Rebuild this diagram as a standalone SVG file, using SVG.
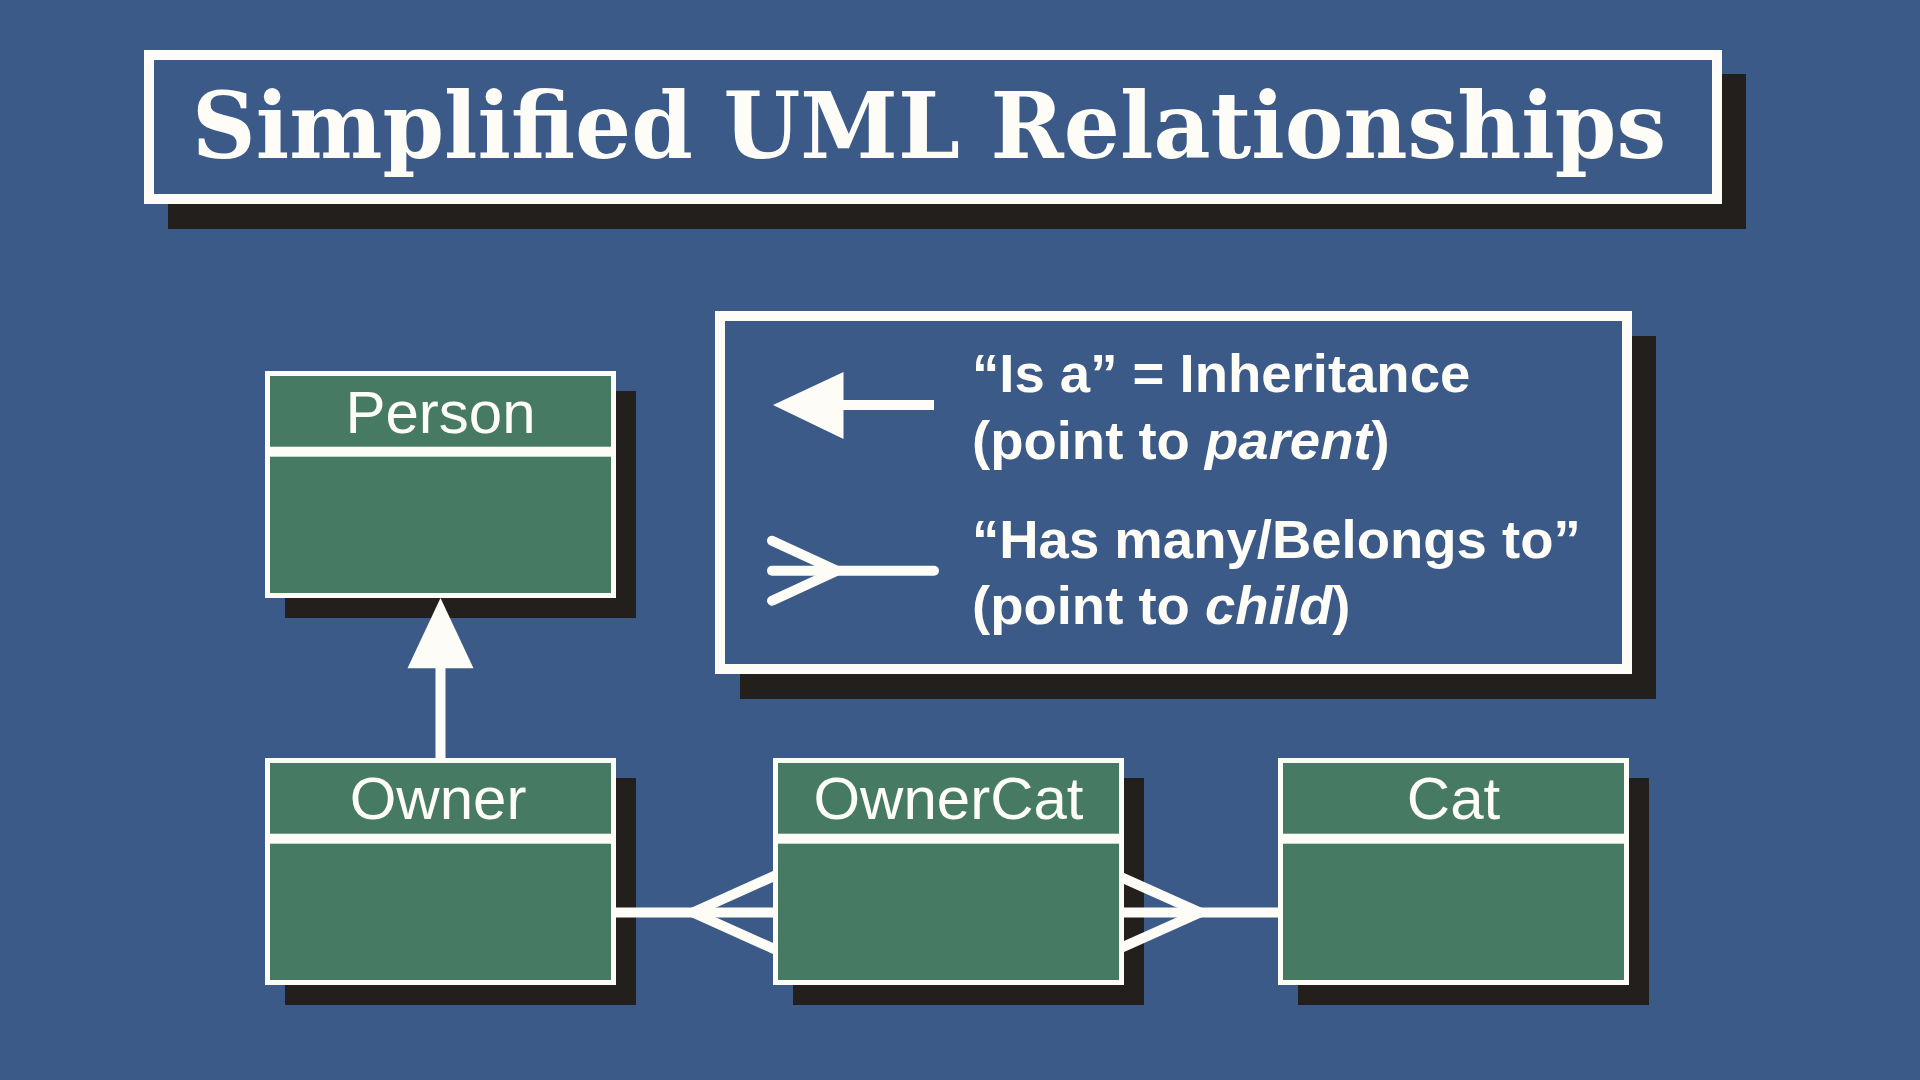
<svg xmlns="http://www.w3.org/2000/svg" width="1920" height="1080" viewBox="0 0 1920 1080">
  <style>
    .shadow { fill: #231F1C; }
    .frame { fill: #FDFCF7; }
    .panel { fill: #3B5A87; }
    .green { fill: #477A62; }
    .name { font-family: "Liberation Sans", Arial, sans-serif; font-size: 60px; fill: #FDFCF7; text-anchor: middle; }
    .legend { font-family: "Liberation Sans", Arial, sans-serif; font-weight: bold; font-size: 54.5px; fill: #FDFCF7; }
    .title { font-family: "DejaVu Serif", "Liberation Serif", serif; font-weight: bold; font-size: 92px; fill: #FDFCF7; }
    .conn { stroke: #FDFCF7; stroke-width: 10; fill: none; }
  </style>
  <defs>
    <g id="box">
      <rect class="shadow" x="20" y="20" width="351" height="227"/>
      <rect class="frame" x="0" y="0" width="351" height="227"/>
      <rect class="green" x="5" y="5" width="341" height="70.7"/>
      <rect class="green" x="5" y="85.7" width="341" height="136.3"/>
    </g>
  </defs>
  <rect width="1920" height="1080" fill="#3B5A87"/>

  <g id="title">
    <rect class="shadow" x="168" y="74" width="1578" height="155"/>
    <rect class="frame" x="144" y="50" width="1578" height="154"/>
    <rect class="panel" x="154" y="60" width="1558" height="134"/>
    <text class="title" x="192" y="158" textLength="1474" lengthAdjust="spacingAndGlyphs">Simplified UML Relationships</text>
  </g>

  <g id="legend">
    <rect class="shadow" x="740" y="336" width="916" height="363"/>
    <rect class="frame" x="715" y="311" width="917" height="363"/>
    <rect class="panel" x="725" y="321" width="897" height="343"/>
    <g id="legend-inheritance">
      <polygon class="frame" points="773,405 843.5,372 843.5,439"/>
      <rect class="frame" x="842" y="400" width="92" height="10"/>
    </g>
    <g id="legend-many">
      <line class="conn" x1="772" y1="570.7" x2="934" y2="570.7" stroke-linecap="round"/>
      <path class="conn" d="M772,540.7 L837,570.7 L772,600.7" stroke-linecap="round" stroke-linejoin="round"/>
    </g>
    <text class="legend" x="972" y="391.7">“Is a” = Inheritance</text>
    <text class="legend" x="972" y="458.5">(point to <tspan font-style="italic">parent</tspan>)</text>
    <text class="legend" x="972" y="557.5">“Has many/Belongs to”</text>
    <text class="legend" x="972" y="624">(point to <tspan font-style="italic">child</tspan>)</text>
  </g>

  <g id="person">
    <use href="#box" x="265" y="371"/>
    <text class="name" x="440.5" y="433">Person</text>
  </g>
  <g id="owner">
    <use href="#box" x="265" y="758"/>
    <text class="name" x="438" y="819">Owner</text>
  </g>
  <g id="ownercat">
    <use href="#box" x="773" y="758"/>
    <text class="name" x="948.5" y="819">OwnerCat</text>
  </g>
  <g id="cat">
    <use href="#box" x="1278" y="758"/>
    <text class="name" x="1453.5" y="819">Cat</text>
  </g>

  <g id="connectors">
    <g id="owner-person">
      <rect class="frame" x="435.5" y="660" width="10" height="100"/>
      <polygon class="frame" points="440.5,598 407.5,668.3 473.5,668.3"/>
    </g>
    <g id="owner-ownercat">
      <line class="conn" x1="614" y1="912.5" x2="775" y2="912.5"/>
      <path class="conn" d="M775.5,875.4 L693,912.5 L775.5,949.6" stroke-linejoin="miter"/>
    </g>
    <g id="cat-ownercat">
      <line class="conn" x1="1122" y1="912.5" x2="1280" y2="912.5"/>
      <path class="conn" d="M1121.5,877.4 L1200,912.5 L1121.5,947.6" stroke-linejoin="miter"/>
    </g>
  </g>
</svg>
